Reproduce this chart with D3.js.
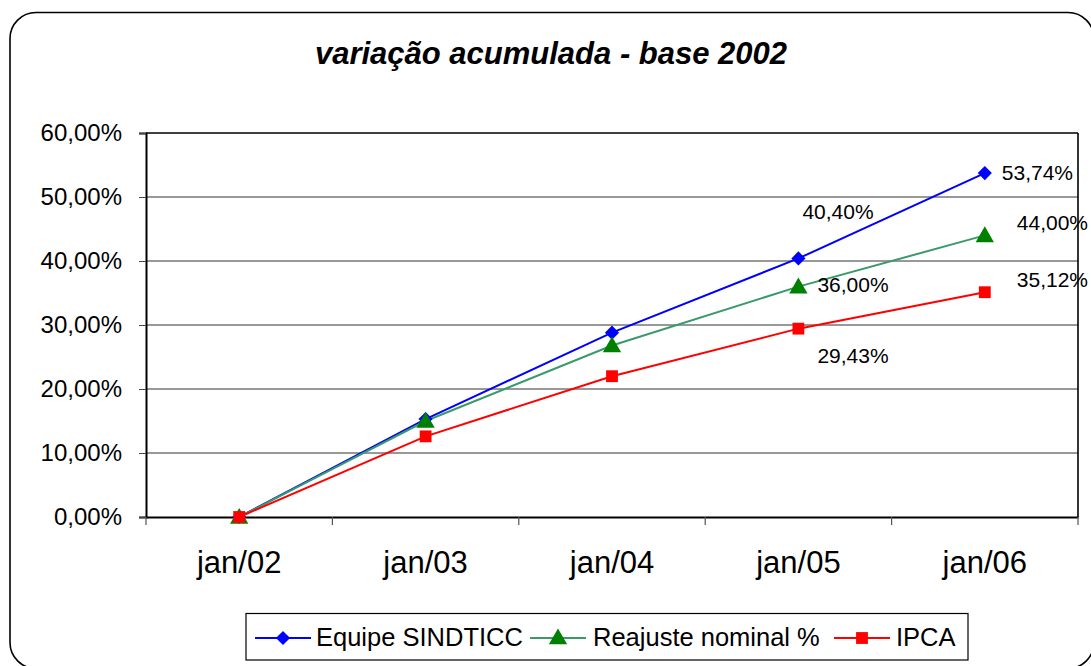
<!DOCTYPE html>
<html>
<head>
<meta charset="utf-8">
<script src="https://cdn.jsdelivr.net/npm/d3@7"></script>
<style>
  html, body { margin: 0; padding: 0; background: #fff; }
  svg { display: block; font-family: "Liberation Sans", Arial, sans-serif; }
</style>
</head>
<body>
<svg id="chart" width="1091" height="666"></svg>
<script>
// ---- data ----
const categories = ["jan/02", "jan/03", "jan/04", "jan/05", "jan/06"];
const equipeSindticc = [0, 15.3, 28.8, 40.40, 53.74];
const reajusteNominal = [0, 15.0, 26.8, 36.00, 44.00];
const ipca = [0, 12.6, 22.0, 29.43, 35.12];
const yTicks = [0, 10, 20, 30, 40, 50, 60];
const seriesNames = ["Equipe SINDTICC", "Reajuste nominal %", "IPCA"];
const labeledIndices = [3, 4];
const titleText = "variação acumulada - base 2002";

// ---- styling / layout ----
const plot = { left: 146, right: 1078, top: 133, bottom: 517 };
const seriesStyle = [
  { line: "#0000ff", fill: "#0000ff", symbol: d3.symbolSquare, size: 100, rotate: 45 },
  { line: "#3a9a6a", fill: "#008000", symbol: d3.symbolTriangle, size: 145, rotate: 0 },
  { line: "#ff0000", fill: "#ff0000", symbol: d3.symbolSquare, size: 140, rotate: 0 }
];
// label offsets (dx, dy of text start/baseline relative to point) per series, per labeled index
const labelOffsets = [
  [[4, -39], [17, 7]],
  [[19, 5], [32, -5]],
  [[19, 34], [32, -5]]
];

const svg = d3.select("#chart");
const fmt = v => d3.format(".2f")(v).replace(".", ",") + "%";

// outer rounded frame
svg.append("rect")
  .attr("x", 10).attr("y", 12.5).attr("width", 1084).attr("height", 656)
  .attr("rx", 26).attr("ry", 26)
  .attr("fill", "#fff").attr("stroke", "#000").attr("stroke-width", 1.6);

// title
svg.append("text")
  .attr("x", 551).attr("y", 64)
  .attr("text-anchor", "middle")
  .attr("font-size", 31).attr("font-weight", "bold").attr("font-style", "italic")
  .attr("fill", "#000")
  .text(titleText);

const x = d3.scaleBand().domain(categories).range([plot.left, plot.right]).padding(0);
const y = d3.scaleLinear().domain([0, 60]).range([plot.bottom, plot.top]);

// gridlines
svg.append("g").selectAll("line").data(yTicks.filter(t => t > 0)).join("line")
  .attr("x1", plot.left).attr("x2", plot.right)
  .attr("y1", d => y(d)).attr("y2", d => y(d))
  .attr("stroke", d => d === 60 ? "#000" : "#333").attr("stroke-width", d => d === 60 ? 1.6 : 1);

// right border of plot
svg.append("line")
  .attr("x1", plot.right).attr("x2", plot.right)
  .attr("y1", plot.top).attr("y2", plot.bottom)
  .attr("stroke", "#000").attr("stroke-width", 1.6);

// y axis
const yAxis = svg.append("g").attr("transform", `translate(${plot.left},0)`)
  .call(d3.axisLeft(y).tickValues(yTicks).tickSize(7).tickPadding(17).tickFormat(fmt));
yAxis.select(".domain").attr("stroke", "#000").attr("stroke-width", 2);
yAxis.selectAll(".tick line").attr("stroke", "#444").attr("stroke-width", 1);
yAxis.selectAll("text").attr("font-size", 24).attr("fill", "#000")
  .attr("font-family", "'Liberation Sans', Arial, sans-serif");

// x axis
const xAxis = svg.append("g").attr("transform", `translate(0,${plot.bottom})`)
  .call(d3.axisBottom(x).tickSize(0).tickPadding(34).tickFormat(d => d));
xAxis.select(".domain").attr("stroke", "#000").attr("stroke-width", 2);
xAxis.selectAll("text").attr("font-size", 31).attr("fill", "#000")
  .attr("font-family", "'Liberation Sans', Arial, sans-serif");
// x tick marks at category boundaries
const boundaries = categories.map(c => x(c)).concat([x(categories[categories.length - 1]) + x.bandwidth()]);
svg.append("g").selectAll("line").data(boundaries).join("line")
  .attr("x1", d => d).attr("x2", d => d)
  .attr("y1", plot.bottom).attr("y2", plot.bottom + 8)
  .attr("stroke", "#555").attr("stroke-width", 1.2);

// series
const allSeries = [equipeSindticc, reajusteNominal, ipca];
const cx = i => x(categories[i]) + x.bandwidth() / 2;
const line = d3.line().x((d, i) => cx(i)).y(d => y(d));

allSeries.forEach((vals, s) => {
  const st = seriesStyle[s];
  svg.append("path").datum(vals)
    .attr("d", line).attr("fill", "none")
    .attr("stroke", st.line).attr("stroke-width", 2);
});
allSeries.forEach((vals, s) => {
  const st = seriesStyle[s];
  svg.append("g").selectAll("path").data(vals).join("path")
    .attr("transform", (d, i) => `translate(${cx(i)},${y(d) + (s === 1 ? 1.5 : 0)}) rotate(${st.rotate})`)
    .attr("d", d3.symbol().type(st.symbol).size(st.size))
    .attr("fill", st.fill);
});

// data labels
allSeries.forEach((vals, s) => {
  labeledIndices.forEach((idx, k) => {
    const off = labelOffsets[s][k];
    svg.append("text")
      .attr("x", cx(idx) + off[0]).attr("y", y(vals[idx]) + off[1])
      .attr("font-size", 21).attr("fill", "#000")
      .text(fmt(vals[idx]));
  });
});

// legend
const lg = svg.append("g");
lg.append("rect").attr("x", 246).attr("y", 613.5).attr("width", 722).attr("height", 46.5)
  .attr("fill", "#fff").attr("stroke", "#000").attr("stroke-width", 1.2);
const legendX = [255, 530, 834];
const legendTextX = [316, 593, 896];
seriesNames.forEach((name, s) => {
  const st = seriesStyle[s];
  const lx = legendX[s];
  lg.append("line").attr("x1", lx).attr("x2", lx + 56).attr("y1", 638).attr("y2", 638)
    .attr("stroke", st.line).attr("stroke-width", 2);
  lg.append("path").attr("transform", `translate(${lx + 28},${638 + (s === 1 ? 1 : 0)}) rotate(${st.rotate})`)
    .attr("d", d3.symbol().type(st.symbol).size(st.size)).attr("fill", st.fill);
  lg.append("text").attr("x", legendTextX[s]).attr("y", 646)
    .attr("font-size", 25.5).attr("fill", "#000").text(name);
});
</script>
</body>
</html>
